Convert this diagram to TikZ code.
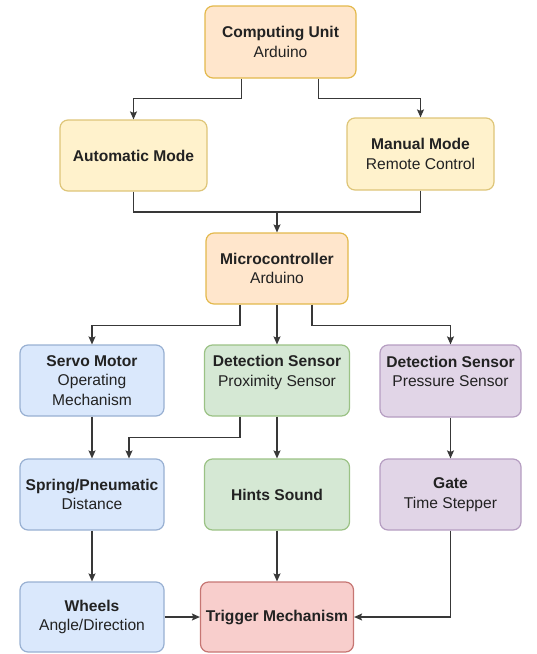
\documentclass[tikz,border=0pt]{standalone}
\usepackage{fontspec}
\setmainfont{Liberation Sans}
\usepackage{tikz}
\usetikzlibrary{arrows.meta}
\usetikzlibrary{positioning}

\definecolor{orangefill}{HTML}{FFE6CC}
\definecolor{orangeline}{HTML}{D79B00}
\definecolor{yellowfill}{HTML}{FFF2CC}
\definecolor{yellowline}{HTML}{D6B656}
\definecolor{bluefill}{HTML}{DAE8FC}
\definecolor{blueline}{HTML}{6C8EBF}
\definecolor{greenfill}{HTML}{D5E8D4}
\definecolor{greenline}{HTML}{82B366}
\definecolor{purplefill}{HTML}{E1D5E7}
\definecolor{purpleline}{HTML}{9673A6}
\definecolor{redfill}{HTML}{F8CECC}
\definecolor{redline}{HTML}{B85450}
\definecolor{inkgray}{HTML}{222222}

\begin{document}
\begin{tikzpicture}[x=1pt, y=-1pt,
  box/.style={draw, rounded corners=8pt, line width=1.2pt, align=center,
    minimum width=144pt, minimum height=71pt, inner sep=2pt, text=inkgray,
    font=\fontsize{15.6}{19.5}\selectfont},
  orangebox/.style={box, fill=orangefill, draw=orangeline!70},
  yellowbox/.style={box, fill=yellowfill, draw=yellowline!80},
  bluebox/.style={box, fill=bluefill, draw=blueline!70},
  greenbox/.style={box, fill=greenfill, draw=greenline!80},
  purplebox/.style={box, fill=purplefill, draw=purpleline!70},
  redbox/.style={box, fill=redfill, draw=redline!80},
  arr/.style={draw=inkgray!90, line width=1.2pt, -{Stealth[length=8pt,width=7pt,inset=1.5pt]}},
  link/.style={draw=inkgray!90, line width=1.2pt}]
\useasboundingbox (0,0) rectangle (537,654);

\node [orangebox, minimum width=151pt, minimum height=72pt] (cu) at (280.5,42) {\textbf{Computing Unit}\\Arduino};
\node [yellowbox, minimum width=147pt] (auto) at (133.5,155.5) {\textbf{Automatic Mode}};
\node [yellowbox, minimum width=147pt, minimum height=72pt] (manual) at (420.5,154) {\textbf{Manual Mode}\\Remote Control};
\node [orangebox, minimum width=142pt] (micro) at (277,268.5) {\textbf{Microcontroller}\\Arduino};

\node [bluebox] (servo) at (92,380.5) {\textbf{Servo Motor}\\Operating\\Mechanism};
\node [greenbox, minimum width=145pt] (prox) at (277,380.5) {\textbf{Detection Sensor}\\Proximity Sensor\\~};
\node [purplebox, minimum width=141pt, minimum height=72pt] (press) at (450.5,381) {\textbf{Detection Sensor}\\Pressure Sensor\\~};

\node [bluebox] (spring) at (92,494.5) {\textbf{Spring/Pneumatic}\\Distance};
\node [greenbox, minimum width=145pt] (hints) at (277,494.5) {\textbf{Hints Sound}};
\node [purplebox, minimum width=141pt] (gate) at (450.5,494.5) {\textbf{Gate}\\Time Stepper};

\node [bluebox, minimum height=70pt] (wheels) at (92,617) {\textbf{Wheels}\\Angle/Direction};
\node [redbox, minimum width=153pt, minimum height=70pt] (trigger) at (277,617) {\textbf{Trigger Mechanism}};

% Computing unit to the two modes
\draw [arr] ([xshift=-39pt]cu.south) -- ++(0,20) -| (auto);
\draw [arr] ([xshift=38pt]cu.south) -- ++(0,20) -| (manual);

% Modes join above the microcontroller
\coordinate (join) at (micro.north |- 0,212);
\draw [link] (auto) |- (join);
\draw [link] (manual) |- (join);
\draw [arr] (join) -- (micro);

% Microcontroller to the three units
\draw [arr] ([xshift=-37pt]micro.south) -- ++(0,21) -| (servo);
\draw [arr] (micro) -- (prox);
\draw [arr] ([xshift=35pt]micro.south) -- ++(0,21) -| (press);

% Middle row
\draw [arr] (servo) -- (spring);
\draw [arr] ([xshift=-37pt]prox.south) -- ++(0,21) -| ([xshift=37pt]spring.north);
\draw [arr] (prox) -- (hints);
\draw [arr] (press) -- (gate);

% Bottom row
\draw [arr] (spring) -- (wheels);
\draw [arr] (hints) -- (trigger);
\draw [arr] (wheels) -- (trigger);
\draw [arr] (gate) |- (trigger);
\end{tikzpicture}
\end{document}
